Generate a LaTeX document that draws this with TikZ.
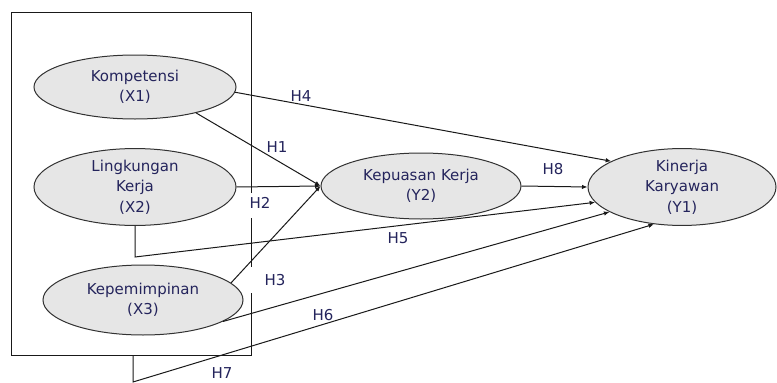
\documentclass[tikz,border=0pt]{standalone}
\usepackage{fontspec}
\setmainfont{DejaVu Sans}
\usepackage{xcolor}
\definecolor{ltext}{RGB}{36,36,92}
\definecolor{efill}{RGB}{230,230,230}
\definecolor{eline}{RGB}{50,50,50}
\usetikzlibrary{shapes.geometric}
\usetikzlibrary{arrows.meta}
\tikzset{
  latent/.style={ellipse,draw=eline,fill=efill,line width=1pt,inner sep=0pt,
    text=ltext,align=center,font=\fontsize{15}{20.5}\selectfont},
  path/.style={line width=1pt,draw=black!90},
  arr/.style={path,-{Latex[length=5.5pt,width=4.5pt]}},
  hlab/.style={text=ltext,font=\fontsize{15}{17}\selectfont,inner sep=0pt}
}

\begin{document}
\begin{tikzpicture}[x=1pt,y=-1pt]
\useasboundingbox (0,0) rectangle (777,383);
\fill[white] (0,0) rectangle (777,383);
\draw[path] (251,193) |- (11,12) |- (251,355) -- (251,293);
\draw[path] (251,218) -- (251,267);
\node[latent,minimum width=202pt,minimum height=64pt] (x1) at (135,87) {Kompetensi\\(X1)};
\node[latent,minimum width=202pt,minimum height=67pt] (x2) at (135,187) {Lingkungan\\Kerja\\(X2)};
\node[latent,minimum width=200pt,minimum height=70pt] (x3) at (143,300) {Kepemimpinan\\(X3)};
\node[latent,minimum width=200pt,minimum height=66pt] (y2) at (421,186) {Kepuasan Kerja\\(Y2)};
\node[latent,minimum width=188pt,minimum height=65pt] (y1) at (682,187) {Kinerja\\Karyawan\\(Y1)};
\coordinate (x2d) at (135,257);
\coordinate (boxs) at (133,355);
\coordinate (boxd) at (133,382);
\draw[arr] (x1.-3) -- (y1.160);
\draw[arr] (x1.-23) -- (y2.west);
\draw[arr] (x2.east) -- (y2.west);
\draw[arr] (x3.11) -- (y2.west);
\draw[arr] (x2.south) -- (x2d) -- (y1.190);
\draw[arr] (y2.east) -- (y1.west);
\draw[arr] (x3.-15) -- (y1.199);
\draw[arr] (boxs) -- (boxd) -- (y1.233);
\node[hlab] (h4) at (301,96) {H4};
\node[hlab] (h1) at (277,147) {H1};
\node[hlab] (h2) at (260,203) {H2};
\node[hlab] (h3) at (275,280) {H3};
\node[hlab] (h5) at (398,238) {H5};
\node[hlab] (h8) at (553,169) {H8};
\node[hlab] (h6) at (323,315) {H6};
\node[hlab] (h7) at (222,373) {H7};
\end{tikzpicture}
\end{document}
